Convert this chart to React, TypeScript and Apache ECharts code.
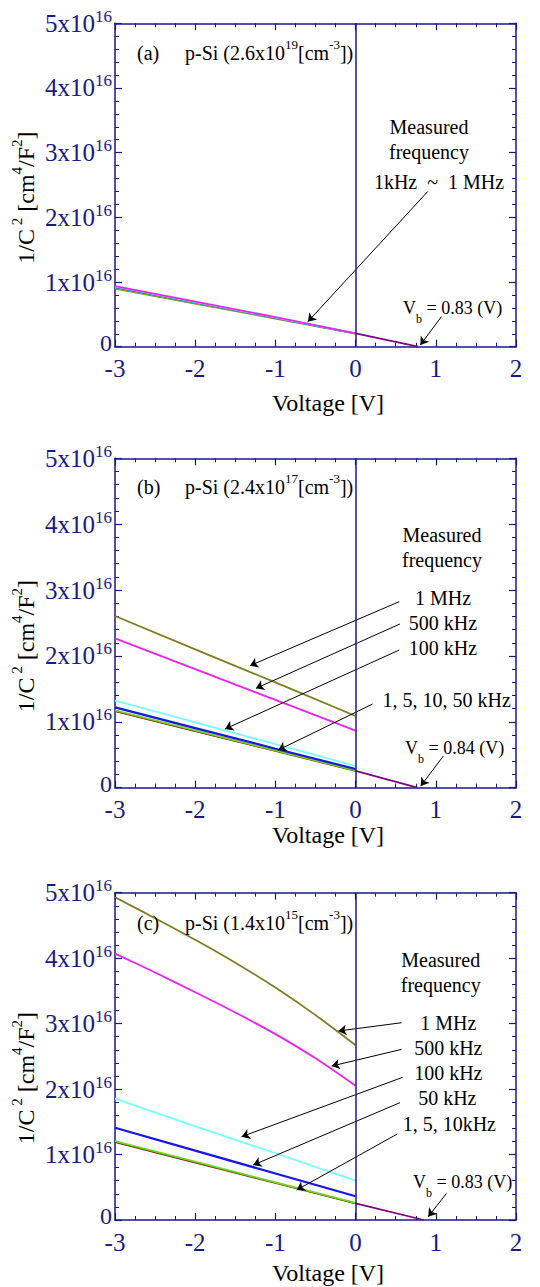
import React, { useEffect, useRef } from 'react';
import * as echarts from 'echarts';

// ---------- data (1/C^2 in units of 1e16 cm^4/F^2) ----------
const xMin = -3;
const xMax = 2;
const yMin = 0;
const yMax = 5;
const vLin = [-3, -2, -1, 0];
const vCurve = [-3, -2.5, -2, -1.5, -1, -0.5, 0];

// Panel (a) p-Si 2.6x10^19
const aOlive = [0.897, 0.668, 0.436, 0.203];
const aGreen = [0.907, 0.675, 0.441, 0.204];
const aBlue = [0.918, 0.682, 0.446, 0.205];
const aCyan = [0.928, 0.688, 0.450, 0.206];
const aMagenta = [0.938, 0.697, 0.457, 0.207];
const aExtrapV = [0, 0.78];
const aExtrap = [0.205, 0];

// Panel (b) p-Si 2.4x10^17
const b1MHz = [2.606, 2.1, 1.598, 1.088];
const b500k = [2.267, 1.8, 1.332, 0.865];
const b100k = [1.321, 0.99, 0.66, 0.329];
const b50k = [1.22, 0.905, 0.592, 0.283];
const b10k = [1.175, 0.87, 0.566, 0.262];
const b5k = [1.166, 0.862, 0.561, 0.258];
const b1k = [1.16, 0.856, 0.556, 0.255];
const bExtrapV = [0, 0.77];
const bExtrap = [0.255, 0];

// Panel (c) p-Si 1.4x10^15
const c1MHz = [4.93, 4.61, 4.28, 3.93, 3.55, 3.13, 2.67];
const c500k = [4.07, 3.78, 3.48, 3.17, 2.84, 2.47, 2.05];
const c100k = [1.853, 1.43, 1.02, 0.601];
const c50k = [1.41, 1.06, 0.71, 0.362];
const c10k = [1.205, 0.89, 0.575, 0.262];
const c5k = [1.195, 0.882, 0.569, 0.256];
const c1k = [1.19, 0.876, 0.565, 0.252];
const cExtrapV = [0, 0.85];
const cExtrap = [0.255, 0];

// annotation arrows: [fromX, fromY, toX, toY] in data units
const aArrows = [
  [0.9, 2.4, -0.595, 0.387],
  [1.07, 0.464, 0.807, 0.026],
];
const bArrows = [
  [0.545, 2.824, -1.318, 1.852],
  [0.553, 2.485, -1.243, 1.508],
  [0.545, 2.09, -1.628, 0.891],
  [0.212, 1.27, -0.964, 0.572],
  [1.094, 0.481, 0.812, 0.025],
];
const cArrows = [
  [0.574, 3.014, -0.215, 2.887],
  [0.574, 2.607, -0.298, 2.352],
  [0.586, 2.179, -1.421, 1.273],
  [0.553, 1.792, -1.276, 0.84],
  [0.52, 1.314, -0.735, 0.458],
  [1.134, 0.407, 0.906, 0.051],
];

// ---------- styling ----------
const NAVY = '#1a1a86';
const FONT = '"Liberation Serif", "Times New Roman", serif';
const OLIVE = '#7f7d22';
const MAGENTA = '#ee22ee';
const CYAN = '#77ffff';
const BLUE = '#1515ee';
const GREEN = '#66dd22';
const RED = '#bb1111';
const DARK = '#5a5a10';
const PURPLE = '#800080';

const grids = [
  { top: 23.3, height: 323.4 },
  { top: 458.3, height: 329.4 },
  { top: 892.7, height: 327.3 },
];

function zip(xs: number[], ys: number[]) {
  return xs.map((x, i) => [x, ys[i]]);
}

function line(g: number, xs: number[], ys: number[], color: string, width = 1.6, smooth: number | boolean = false, extra: any = {}) {
  return {
    type: 'line',
    xAxisIndex: g * 2,
    yAxisIndex: g * 2,
    data: zip(xs, ys),
    showSymbol: false,
    symbol: 'none',
    smooth,
    lineStyle: { color, width },
    silent: true,
    ...extra,
  };
}

function arrowMark(arrows: number[][]) {
  return {
    silent: true,
    symbol: ['none', 'arrow'],
    symbolSize: 8,
    label: { show: false },
    lineStyle: { color: '#000', width: 1, type: 'solid' },
    data: arrows.map((a) => [{ coord: [a[0], a[1]] }, { coord: [a[2], a[3]] }]),
  };
}

const zeroMark = {
  silent: true,
  symbol: 'none',
  label: { show: false },
  lineStyle: { color: NAVY, width: 1.5, type: 'solid' },
  data: [{ xAxis: 0 }],
};

function xAxis(g: number, pos: 'bottom' | 'top') {
  return {
    type: 'value',
    gridIndex: g,
    position: pos,
    min: xMin,
    max: xMax,
    interval: 1,
    axisLine: { show: true, onZero: false, lineStyle: { color: NAVY, width: 1.5 } },
    axisTick: { show: true, inside: true, length: 7, lineStyle: { color: NAVY, width: 1.2 } },
    minorTick: { show: true, splitNumber: 4, length: 4, lineStyle: { color: NAVY, width: 1 } },
    splitLine: { show: false },
    minorSplitLine: { show: false },
    axisLabel:
      pos === 'bottom'
        ? { show: true, color: NAVY, fontFamily: FONT, fontSize: 25, lineHeight: 20, margin: 12, showMinLabel: true, showMaxLabel: true }
        : { show: false },
  };
}

function yAxis(g: number, pos: 'left' | 'right') {
  return {
    type: 'value',
    gridIndex: g,
    position: pos,
    min: yMin,
    max: yMax,
    interval: 1,
    axisLine: { show: true, onZero: false, lineStyle: { color: NAVY, width: 1.5 } },
    axisTick: { show: true, inside: true, length: 7, lineStyle: { color: NAVY, width: 1.2 } },
    minorTick: { show: true, splitNumber: 5, length: 4, lineStyle: { color: NAVY, width: 1 } },
    splitLine: { show: false },
    minorSplitLine: { show: false },
    axisLabel:
      pos === 'left'
        ? {
            show: true,
            margin: 3,
            showMinLabel: true,
            showMaxLabel: true,
            formatter: (v: number) => (v === 0 ? '{z|0}' : `{b|${v}x10}{s|16}`),
            rich: {
              b: { color: NAVY, fontFamily: FONT, fontSize: 25, lineHeight: 31 },
              z: { color: NAVY, fontFamily: FONT, fontSize: 24, lineHeight: 18, padding: [0, 0, 8, 0] },
              s: { color: NAVY, fontFamily: FONT, fontSize: 17, lineHeight: 17, verticalAlign: 'top' },
            },
          }
        : { show: false },
  };
}

const richAnn = {
  n: { fontFamily: FONT, fontSize: 20, lineHeight: 30, fill: '#000', color: '#000' },
  s: { fontFamily: FONT, fontSize: 13, lineHeight: 13, verticalAlign: 'top', fill: '#000', color: '#000' },
};
const richVb = {
  n: { fontFamily: FONT, fontSize: 18, lineHeight: 34, fill: '#000', color: '#000' },
  sub: { fontFamily: FONT, fontSize: 12, lineHeight: 12, verticalAlign: 'bottom', fill: '#000', color: '#000' },
};
const richName = {
  n: { fontFamily: FONT, fontSize: 24, lineHeight: 34, fill: '#000', color: '#000' },
  s: { fontFamily: FONT, fontSize: 15, lineHeight: 15, verticalAlign: 'top', fill: '#000', color: '#000' },
};

function txt(x: number, y: number, text: string, align: string = 'center', rich: any = richAnn, rotation = 0) {
  return {
    type: 'text',
    x,
    y,
    rotation,
    z: 100,
    silent: true,
    style: { text, align, verticalAlign: 'middle', rich, fill: '#000' },
  };
}

function panelTexts(
  letter: string,
  conc: string[],
  labelY: number,
  measX: number,
  measY: number,
  freqLabels: [number, number, string][],
  vb: [number, number, string],
  voltY: number,
  nameY: number
) {
  return [
    txt(137, labelY, `{n|(${letter})}`, 'left'),
    txt(185, labelY, `{n|p-Si (${conc[0]}x10}{s|${conc[1]}}{n|[cm}{s|-3}{n|])}`, 'left'),
    txt(measX, measY, '{n|Measured}'),
    txt(measX, measY + 25, '{n|frequency}'),
    ...freqLabels.map(([x, y, t]) => txt(x, y, `{n|${t}}`)),
    txt(vb[0], vb[1], `{n|V}{sub|b}{n| = ${vb[2]} (V)}`, 'left', richVb),
    txt(328, voltY, '{n|Voltage [V]}', 'center', richName),
    txt(26, nameY, '{n|1/C}{s| 2}{n| [cm}{s|4}{n|/F}{s|2}{n|]}', 'center', richName, Math.PI / 2),
  ];
}

export default function App() {
  const ref = useRef<HTMLDivElement>(null);
  useEffect(() => {
    document.body.style.margin = '0';
    if (!ref.current) return;
    const chart = echarts.init(ref.current, undefined, { renderer: 'svg' });

    const series: any[] = [
      // panel a
      line(0, vLin, aOlive, OLIVE, 1.8, false, { markLine: arrowMark(aArrows) }),
      line(0, vLin, aGreen, GREEN),
      line(0, vLin, aBlue, BLUE),
      line(0, vLin, aCyan, CYAN),
      line(0, vLin, aMagenta, MAGENTA, 1.8),
      line(0, aExtrapV, aExtrap, PURPLE, 1.8, false, { markLine: zeroMark }),
      // panel b
      line(1, vLin, b1k, DARK, 1.6, false, { markLine: arrowMark(bArrows) }),
      line(1, vLin, b5k, RED),
      line(1, vLin, b10k, GREEN, 1.8),
      line(1, vLin, b50k, BLUE, 2.2),
      line(1, vLin, b100k, CYAN, 1.8),
      line(1, vLin, b500k, MAGENTA, 1.8),
      line(1, vLin, b1MHz, OLIVE, 1.8),
      line(1, bExtrapV, bExtrap, PURPLE, 1.8, false, { markLine: zeroMark }),
      // panel c
      line(2, vLin, c1k, DARK, 1.6, false, { markLine: arrowMark(cArrows) }),
      line(2, vLin, c5k, RED),
      line(2, vLin, c10k, GREEN, 1.8),
      line(2, vLin, c50k, BLUE, 2.2),
      line(2, vLin, c100k, CYAN, 1.8),
      line(2, vCurve, c500k, MAGENTA, 1.8, 0.3),
      line(2, vCurve, c1MHz, OLIVE, 1.8, 0.3),
      line(2, cExtrapV, cExtrap, PURPLE, 1.8, false, { markLine: zeroMark }),
    ];

    const graphics = [
      ...panelTexts('a', ['2.6', '19'], 53, 429, 127,
        [[439, 182, '1kHz  ~  1 MHz']], [403, 308, '0.83'], 403, 197.5),
      ...panelTexts('b', ['2.4', '17'], 486.7, 442, 535,
        [[443, 598, '1 MHz'], [443, 623, '500 kHz'], [443, 648, '100 kHz'], [446.7, 700, '1, 5, 10, 50 kHz']],
        [405, 748, '0.84'], 835, 646),
      ...panelTexts('c', ['1.4', '15'], 923.3, 440.7, 960,
        [[448.3, 1023.3, '1 MHz'], [448.3, 1048.3, '500 kHz'], [448.3, 1073.3, '100 kHz'], [447.3, 1098.3, '50 kHz'], [449.3, 1124, '1, 5, 10kHz']],
        [413, 1181.7, '0.83'], 1273, 1078),
    ];

    chart.setOption({
      animation: false,
      backgroundColor: '#fff',
      grid: grids.map((g) => ({ left: 115, right: 24, top: g.top, height: g.height, containLabel: false })),
      xAxis: [0, 1, 2].flatMap((g) => [xAxis(g, 'bottom'), xAxis(g, 'top')]),
      yAxis: [0, 1, 2].flatMap((g) => [yAxis(g, 'left'), yAxis(g, 'right')]),
      series,
      graphic: graphics,
    });
    return () => chart.dispose();
  }, []);
  return <div ref={ref} style={{ width: 540, height: 1287 }} />;
}
